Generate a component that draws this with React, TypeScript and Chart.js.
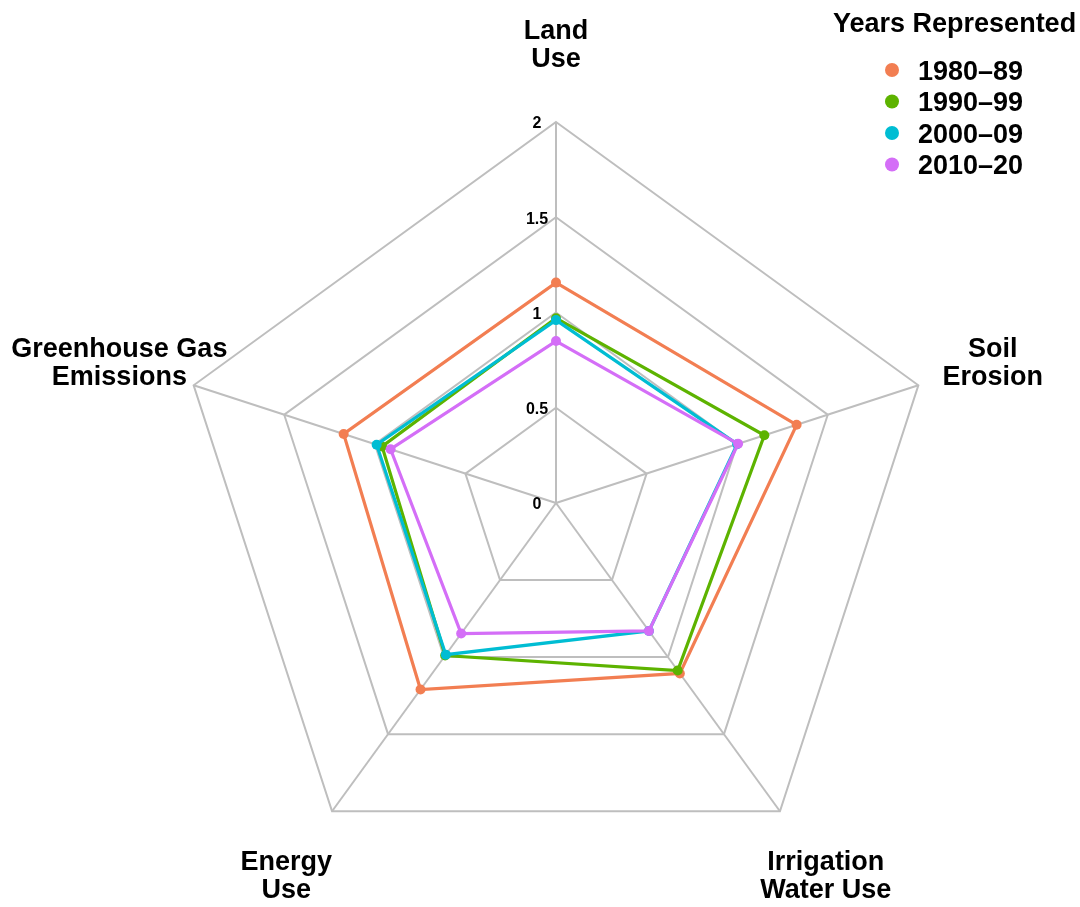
import React, { useEffect, useRef } from "react";
import { Chart, registerables } from "chart.js";

Chart.register(...registerables);

const categories: string[][] = [
  ["Land", "Use"],
  ["Soil", "Erosion"],
  ["Irrigation", "Water Use"],
  ["Energy", "Use"],
  ["Greenhouse Gas", "Emissions"],
];

const seriesNames = ["1980\u201389", "1990\u201399", "2000\u201309", "2010\u201320"];
const seriesColors = ["#F27E52", "#5DB300", "#00BDD3", "#D46EF7"];

const values1980 = [1.157, 1.328, 1.106, 1.21, 1.172];
const values1990 = [0.97, 1.15, 1.087, 0.99, 0.96];
const values2000 = [0.96, 1.0, 0.83, 0.984, 0.99];
const values2010 = [0.85, 1.005, 0.83, 0.847, 0.913];

const tickValues = [0, 0.5, 1, 1.5, 2];
const tickLabels = ["0", "0.5", "1", "1.5", "2"];

const legendTitle = "Years Represented";

const FONT = "'Liberation Sans', Arial, Helvetica, sans-serif";

const labelPlugin = {
  id: "customText",
  afterDraw(chart: any) {
    const ctx = chart.ctx;
    const scale = chart.scales.r;
    ctx.save();
    ctx.fillStyle = "#000000";
    // tick labels
    ctx.font = `bold 16px ${FONT}`;
    ctx.textAlign = "center";
    ctx.textBaseline = "middle";
    tickValues.forEach((v, i) => {
      const d = scale.getDistanceFromCenterForValue(v);
      ctx.fillText(tickLabels[i], scale.xCenter - 19, scale.yCenter - d + 2);
    });
    // axis labels
    ctx.font = `bold 27px ${FONT}`;
    ctx.textBaseline = "alphabetic";
    const lineH = 28;
    categories.forEach((lines, i) => {
      const p = scale.getPointPosition(i, scale.drawingArea * 1.205);
      const n = lines.length;
      lines.forEach((t, j) => {
        const yc = p.y + (j - (n - 1) / 2) * lineH;
        ctx.fillText(t, p.x, yc + 9.6);
      });
    });
    // legend
    ctx.textAlign = "left";
    ctx.fillText(legendTitle, 833, 31.5);
    chart.data.datasets.forEach((ds: any, i: number) => {
      const yc = 70 + i * 31.5;
      ctx.beginPath();
      ctx.fillStyle = ds.borderColor;
      ctx.arc(892, yc, 7, 0, Math.PI * 2);
      ctx.fill();
      ctx.fillStyle = "#000000";
      ctx.fillText(ds.label, 918, yc + 9.6);
    });
    ctx.restore();
  },
};

export default function App() {
  const ref = useRef<HTMLCanvasElement | null>(null);
  useEffect(() => {
    document.body.style.margin = "0";
    const canvas = ref.current!;
    const seriesValues = [values1980, values1990, values2000, values2010];
    const chart = new Chart(canvas, {
      type: "radar",
      data: {
        labels: categories.map((c) => c.join(" ")),
        datasets: seriesValues.map((vals, i) => ({
          label: seriesNames[i],
          data: vals,
          borderColor: seriesColors[i],
          backgroundColor: seriesColors[i],
          pointBackgroundColor: seriesColors[i],
          pointBorderColor: seriesColors[i],
          pointBorderWidth: 0,
          pointRadius: 5,
          borderWidth: 3.2,
          fill: false,
          tension: 0,
          order: seriesValues.length - i,
        })),
      },
      options: {
        responsive: false,
        animation: false,
        layout: { padding: { left: 175, top: 122, right: 143, bottom: 23 } },
        plugins: {
          legend: { display: false },
          tooltip: { enabled: false },
        },
        scales: {
          r: {
            min: 0,
            max: 2,
            startAngle: 0,
            ticks: { display: false, stepSize: 0.5 },
            pointLabels: { display: false },
            grid: { color: "#BEBEBE", lineWidth: 2 },
            angleLines: { color: "#BEBEBE", lineWidth: 2 },
          },
        },
      },
      plugins: [labelPlugin],
    });
    return () => chart.destroy();
  }, []);
  return (
    <canvas
      ref={ref}
      width={1080}
      height={907}
      style={{ display: "block", width: 1080, height: 907 }}
    />
  );
}
